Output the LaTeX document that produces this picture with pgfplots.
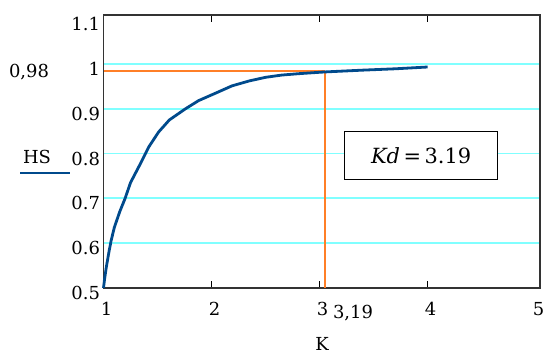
\documentclass[border=0pt]{standalone}
\usepackage{fontspec}
\setmainfont{DejaVu Serif}
\newfontfamily\dserif{DejaVu Serif}
\usepackage{pgfplots}
\pgfplotsset{compat=1.18}
\definecolor{curveblue}{HTML}{004A8C}
\definecolor{gridcyan}{HTML}{80FFFF}
\definecolor{lineorange}{HTML}{FF7F27}
\begin{document}
\begin{tikzpicture}[x=1bp,y=1bp]
\useasboundingbox (0,0) rectangle (549,354);
\begin{axis}[
  at={(103.5bp,66bp)}, anchor=south west,
  scale only axis, width=436.5bp, height=273bp,
  xmin=1, xmax=5.04, ymin=0.5, ymax=1.109,
  xtick={2,3,4}, xticklabels={2,3,4},
  extra x ticks={1,5}, extra x tick labels={1,5},
  extra x tick style={tick style={draw=none}},
  ytick={0.6,0.7,0.8,0.9,1.0},
  yticklabels={0.6,0.7,0.8,0.9,1},
  extra y ticks={0.5,1.1}, extra y tick labels={0.5,1.1},
  extra y tick style={grid=none},
  tick align=inside, xtick pos=both, ytick pos=left,
  major tick length=7bp,
  ytick style={draw=none},
  xtick style={black, line width=1bp},
  ymajorgrids, grid style={gridcyan, line width=1.7bp},
  axis line style={black!80, line width=1.3bp},
  tick label style={font=\dserif\fontsize{18}{20}\selectfont},
  yticklabel style={yshift=-5bp},
  xticklabel style={yshift=-11bp, xshift=3bp},
  clip=false,
]
\addplot[lineorange, line width=2bp] coordinates {(1,0.983) (3.05,0.983)};
\addplot[lineorange, line width=2bp] coordinates {(3.05,0.983) (3.05,0.5)};
\addplot[curveblue, line width=2.8bp, line join=round] coordinates {
 (1.0,0.50) (1.01,0.52) (1.025,0.545) (1.05,0.58) (1.07,0.605) (1.1,0.635)
 (1.15,0.67) (1.2,0.70) (1.25,0.735) (1.33,0.772) (1.42,0.815) (1.51,0.848)
 (1.61,0.875) (1.76,0.90) (1.88,0.918) (2.05,0.936) (2.19,0.951) (2.35,0.962)
 (2.5,0.970) (2.65,0.975) (2.8,0.978) (3.05,0.982) (3.4,0.986)
 (3.7,0.989) (4.0,0.993)};
\node[draw=black, line width=1bp, minimum width=153bp, minimum height=48bp, fill=white,
      font=\dserif\fontsize{21}{22}\selectfont] at (axis cs:3.94,0.795) {\textit{Kd}\,=\,3.19\hspace{26bp}};
\end{axis}
\node[font=\dserif\fontsize{18}{20}\selectfont] at (29,282) {0,98};
\node[font=\dserif\fontsize{18}{20}\selectfont] at (37,197) {HS};
\draw[curveblue, line width=2.8bp] (20,181) -- (70,181);
\node[font=\dserif\fontsize{18}{20}\selectfont] at (353,41) {3,19};
\node[font=\dserif\fontsize{18}{20}\selectfont] at (322,10) {K};
\end{tikzpicture}
\end{document}
